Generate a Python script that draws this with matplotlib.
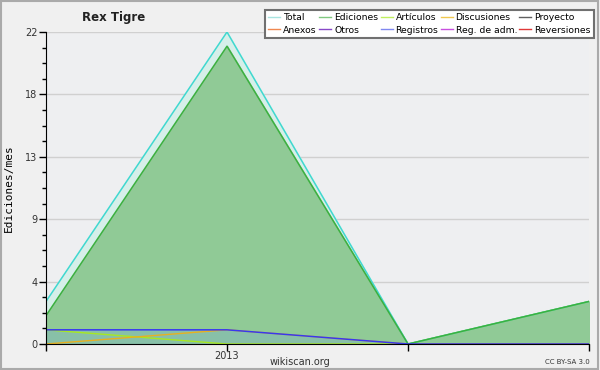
import matplotlib
matplotlib.use("Agg")
import matplotlib.pyplot as plt
from matplotlib.lines import Line2D
from matplotlib.ticker import FixedLocator
import numpy as np

# Data
x_labels = ["", "2013", "", ""]
total = [3, 22, 0, 3]
ediciones = [2, 21, 0, 3]
articulos = [1, 0, 0, 3]
discusiones = [0, 1, 0, 0]
registros = [1, 1, 0, 0]

legend_names = ["Total", "Ediciones", "Artículos", "Discusiones", "Proyecto",
                "Anexos", "Otros", "Registros", "Reg. de adm.", "Reversiones"]
legend_colors = ["#a8e4e0", "#80c880", "#c0f060", "#f0c850", "#606060",
                 "#f08850", "#8848c8", "#8088f0", "#c850e0", "#e03838"]

y_major = [0, 4.4, 8.8, 13.2, 17.6, 22]
y_major_labels = ["0", "4", "9", "13", "18", "22"]

fig = plt.figure(figsize=(6, 3.7), dpi=100, facecolor="#f0f0f0")
# outer border
fig.patches.append(plt.Rectangle((0.002, 0.003), 0.995, 0.994, transform=fig.transFigure,
                                 fill=False, edgecolor="#aaaaaa", linewidth=1.5))

ax = fig.add_axes([46/600, 1-344/370, (589-46)/600, (344-32)/370])
ax.set_facecolor("#eeeff1")

xs = np.arange(len(total))

ax.fill_between(xs, total, color="#d6efe9", zorder=1)
ax.plot(xs, total, color="#40d8d0", lw=1.1, zorder=5)
ax.fill_between(xs, ediciones, color="#90ca96", zorder=2)
ax.plot(xs, ediciones, color="#3cb040", lw=1.1, zorder=6)
ax.fill_between(xs, registros, color="#88c0a8", zorder=3)
ax.plot(xs, articulos, color="#a8e820", lw=1.0, zorder=4)
ax.plot(xs, discusiones, color="#e8b020", lw=1.0, zorder=4)
ax.plot(xs, registros, color="#3838f0", lw=1.1, zorder=7)

ax.set_xlim(0, 3)
ax.set_ylim(0, 22)
ax.yaxis.set_major_locator(FixedLocator(y_major))
ax.set_yticklabels(y_major_labels)
minors = [v for v in np.arange(0, 22.01, 1.1) if min(abs(v - m) for m in y_major) > 0.05]
ax.yaxis.set_minor_locator(FixedLocator(minors))
ax.set_xticks(xs)
ax.set_xticklabels(x_labels)
ax.grid(axis="y", color="#d0d0d0", lw=1.0, zorder=0)
ax.set_axisbelow(True)
for s in ["top", "right"]:
    ax.spines[s].set_visible(False)
ax.spines["left"].set_color("black")
ax.spines["bottom"].set_color("black")
ax.spines["left"].set_zorder(10)
ax.spines["bottom"].set_zorder(10)
ax.tick_params(axis="both", which="major", length=5, width=1, labelsize=7, colors="black",
               labelcolor="#333333", pad=1)
ax.tick_params(axis="x", which="major", pad=0)
ax.tick_params(axis="y", which="minor", length=3, width=1)

ax.set_ylabel("Ediciones/mes", family="DejaVu Sans Mono", fontsize=8, labelpad=8)

fig.text(114/600, 1-17/370, "Rex Tigre", ha="center", va="center", fontsize=8.5,
         fontweight="bold", color="#222222")
fig.text(300/600, 1-362/370, "wikiscan.org", ha="center", va="center", fontsize=7, color="#333333")
fig.text(590/600, 1-362/370, "CC BY-SA 3.0", ha="right", va="center", fontsize=5, color="#333333")

# legend
order = [0, 5, 1, 6, 2, 7, 3, 8, 4, 9]
handles = [Line2D([0], [0], color=legend_colors[i], lw=1) for i in order]
labels = [legend_names[i] for i in order]
leg = fig.legend(handles, labels, ncol=5, loc="upper right", bbox_to_anchor=(594/600, 1-10/370),
                 fontsize=6.7, frameon=True, fancybox=False, shadow=False,
                 handlelength=1.3, handletextpad=0.3, columnspacing=0.25,
                 labelspacing=0.35, borderpad=0.35, borderaxespad=0)
leg.get_frame().set_edgecolor("#707070")
leg.get_frame().set_linewidth(1.5)
leg.get_frame().set_facecolor("white")
leg.get_frame().set_alpha(1)

fig.savefig("out.png", dpi=100, facecolor=fig.get_facecolor())
